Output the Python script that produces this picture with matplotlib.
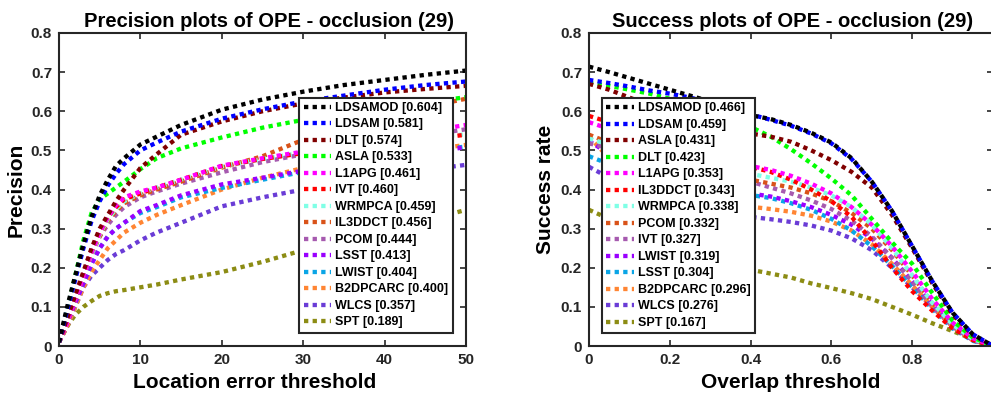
import matplotlib
matplotlib.use("Agg")
import matplotlib.pyplot as plt
import numpy as np

plt.rcParams['font.family'] = ['Liberation Sans', 'DejaVu Sans']
plt.rcParams['font.weight'] = 'bold'

# colours are given by rank in each legend
colors = ['#000000', '#0000FF', '#800000', '#00FF00', '#FF00FF', '#FF0000',
          '#80FFE6', '#D95319', '#A65AAF', '#9A00FF', '#0AA5E6', '#FF8533',
          '#6A3CD6', '#8C8C14']

# ---- precision plot (location error threshold) ----
prec_x = [0, 1, 2, 3, 4, 5, 6, 7, 8, 10, 12, 15, 20, 25, 30, 35, 40, 45, 50]
prec_names = ['LDSAMOD [0.604]', 'LDSAM [0.581]', 'DLT [0.574]', 'ASLA [0.533]',
              'L1APG [0.461]', 'IVT [0.460]', 'WRMPCA [0.459]', 'IL3DDCT [0.456]',
              'PCOM [0.444]', 'LSST [0.413]', 'LWIST [0.404]', 'B2DPCARC [0.400]',
              'WLCS [0.357]', 'SPT [0.189]']
p_ldsamod = [0.01, 0.10, 0.18, 0.26, 0.33, 0.385, 0.425, 0.46, 0.48, 0.515, 0.535, 0.565, 0.604, 0.63, 0.65, 0.667, 0.68, 0.693, 0.704]
p_ldsam = [0.01, 0.09, 0.17, 0.25, 0.32, 0.37, 0.41, 0.44, 0.465, 0.50, 0.52, 0.548, 0.581, 0.605, 0.625, 0.64, 0.655, 0.667, 0.676]
p_dlt = [0.01, 0.07, 0.13, 0.19, 0.25, 0.30, 0.335, 0.37, 0.40, 0.455, 0.49, 0.54, 0.574, 0.60, 0.62, 0.635, 0.648, 0.657, 0.665]
p_asla = [0.01, 0.09, 0.18, 0.27, 0.34, 0.375, 0.39, 0.405, 0.42, 0.452, 0.48, 0.505, 0.533, 0.558, 0.578, 0.595, 0.61, 0.622, 0.636]
p_l1apg = [0.01, 0.06, 0.12, 0.18, 0.24, 0.29, 0.33, 0.36, 0.38, 0.395, 0.405, 0.425, 0.461, 0.48, 0.497, 0.515, 0.53, 0.548, 0.565]
p_ivt = [0.01, 0.06, 0.12, 0.18, 0.24, 0.29, 0.33, 0.355, 0.375, 0.39, 0.405, 0.425, 0.460, 0.478, 0.493, 0.505, 0.515, 0.528, 0.54]
p_wrmpca = [0.01, 0.06, 0.12, 0.18, 0.235, 0.285, 0.325, 0.35, 0.37, 0.39, 0.405, 0.425, 0.459, 0.478, 0.495, 0.508, 0.52, 0.532, 0.541]
p_il3ddct = [0.01, 0.06, 0.12, 0.18, 0.235, 0.28, 0.32, 0.345, 0.365, 0.385, 0.40, 0.42, 0.456, 0.485, 0.527, 0.56, 0.59, 0.61, 0.632]
p_pcom = [0.01, 0.06, 0.12, 0.18, 0.235, 0.28, 0.31, 0.335, 0.355, 0.38, 0.395, 0.415, 0.444, 0.47, 0.49, 0.505, 0.52, 0.538, 0.554]
p_lsst = [0.01, 0.06, 0.11, 0.16, 0.21, 0.25, 0.28, 0.30, 0.315, 0.345, 0.36, 0.385, 0.413, 0.43, 0.448, 0.465, 0.48, 0.495, 0.508]
p_lwist = [0.01, 0.06, 0.11, 0.16, 0.21, 0.25, 0.28, 0.30, 0.315, 0.34, 0.355, 0.38, 0.404, 0.425, 0.445, 0.463, 0.48, 0.497, 0.51]
p_b2dpcarc = [0.01, 0.05, 0.10, 0.15, 0.19, 0.22, 0.25, 0.27, 0.29, 0.315, 0.335, 0.36, 0.400, 0.43, 0.455, 0.47, 0.485, 0.50, 0.514]
p_wlcs = [0.01, 0.05, 0.10, 0.15, 0.18, 0.20, 0.22, 0.235, 0.245, 0.27, 0.29, 0.315, 0.357, 0.38, 0.40, 0.42, 0.437, 0.45, 0.463]
p_spt = [0.01, 0.05, 0.08, 0.10, 0.115, 0.128, 0.135, 0.14, 0.143, 0.15, 0.157, 0.17, 0.189, 0.215, 0.245, 0.27, 0.295, 0.32, 0.348]
prec_vals = [p_ldsamod, p_ldsam, p_dlt, p_asla, p_l1apg, p_ivt, p_wrmpca, p_il3ddct,
             p_pcom, p_lsst, p_lwist, p_b2dpcarc, p_wlcs, p_spt]

# ---- success plot (overlap threshold) ----
succ_x = [0, 0.05, 0.1, 0.15, 0.2, 0.25, 0.3, 0.35, 0.4, 0.45, 0.5, 0.55, 0.6, 0.65, 0.7, 0.75, 0.8, 0.85, 0.9, 0.95, 1.0]
succ_names = ['LDSAMOD [0.466]', 'LDSAM [0.459]', 'ASLA [0.431]', 'DLT [0.423]',
              'L1APG [0.353]', 'IL3DDCT [0.343]', 'WRMPCA [0.338]', 'PCOM [0.332]',
              'IVT [0.327]', 'LWIST [0.319]', 'LSST [0.304]', 'B2DPCARC [0.296]',
              'WLCS [0.276]', 'SPT [0.167]']
s_ldsamod = [0.714, 0.70, 0.685, 0.67, 0.655, 0.64, 0.625, 0.61, 0.59, 0.58, 0.565, 0.545, 0.52, 0.48, 0.42, 0.345, 0.255, 0.165, 0.085, 0.03, 0.0]
s_ldsam = [0.68, 0.672, 0.663, 0.653, 0.645, 0.635, 0.622, 0.608, 0.592, 0.578, 0.563, 0.543, 0.518, 0.478, 0.42, 0.345, 0.255, 0.165, 0.085, 0.03, 0.0]
s_asla = [0.67, 0.655, 0.635, 0.615, 0.60, 0.585, 0.57, 0.555, 0.543, 0.535, 0.522, 0.50, 0.475, 0.445, 0.405, 0.335, 0.25, 0.16, 0.08, 0.028, 0.0]
s_dlt = [0.672, 0.665, 0.655, 0.645, 0.632, 0.618, 0.60, 0.58, 0.56, 0.535, 0.503, 0.467, 0.428, 0.385, 0.325, 0.265, 0.21, 0.135, 0.065, 0.022, 0.0]
s_l1apg = [0.572, 0.555, 0.54, 0.525, 0.51, 0.497, 0.485, 0.472, 0.46, 0.45, 0.435, 0.415, 0.39, 0.355, 0.31, 0.255, 0.19, 0.12, 0.06, 0.02, 0.0]
s_il3ddct = [0.588, 0.572, 0.555, 0.535, 0.515, 0.497, 0.482, 0.47, 0.458, 0.445, 0.425, 0.40, 0.37, 0.33, 0.27, 0.20, 0.14, 0.09, 0.045, 0.015, 0.0]
s_wrmpca = [0.53, 0.515, 0.50, 0.49, 0.48, 0.47, 0.46, 0.45, 0.44, 0.43, 0.42, 0.405, 0.385, 0.355, 0.31, 0.25, 0.18, 0.11, 0.055, 0.018, 0.0]
s_pcom = [0.54, 0.52, 0.50, 0.485, 0.47, 0.458, 0.447, 0.435, 0.425, 0.415, 0.405, 0.39, 0.37, 0.34, 0.30, 0.245, 0.18, 0.11, 0.055, 0.018, 0.0]
s_ivt = [0.518, 0.505, 0.492, 0.48, 0.468, 0.456, 0.445, 0.433, 0.42, 0.405, 0.39, 0.372, 0.35, 0.32, 0.28, 0.225, 0.165, 0.10, 0.05, 0.015, 0.0]
s_lwist = [0.525, 0.49, 0.465, 0.445, 0.43, 0.418, 0.407, 0.398, 0.39, 0.382, 0.37, 0.355, 0.335, 0.31, 0.275, 0.225, 0.165, 0.105, 0.05, 0.015, 0.0]
s_lsst = [0.485, 0.465, 0.445, 0.43, 0.418, 0.408, 0.40, 0.393, 0.386, 0.378, 0.365, 0.348, 0.325, 0.295, 0.255, 0.205, 0.15, 0.095, 0.045, 0.013, 0.0]
s_b2dpcarc = [0.535, 0.48, 0.44, 0.41, 0.39, 0.378, 0.37, 0.362, 0.356, 0.35, 0.343, 0.333, 0.318, 0.295, 0.26, 0.21, 0.155, 0.10, 0.05, 0.015, 0.0]
s_wlcs = [0.458, 0.43, 0.405, 0.385, 0.37, 0.355, 0.345, 0.337, 0.33, 0.324, 0.317, 0.308, 0.295, 0.275, 0.245, 0.20, 0.15, 0.10, 0.05, 0.015, 0.0]
s_spt = [0.348, 0.325, 0.295, 0.27, 0.25, 0.232, 0.217, 0.205, 0.195, 0.185, 0.175, 0.16, 0.148, 0.135, 0.12, 0.10, 0.08, 0.058, 0.038, 0.018, 0.003]
succ_vals = [s_ldsamod, s_ldsam, s_asla, s_dlt, s_l1apg, s_il3ddct, s_wrmpca, s_pcom,
             s_ivt, s_lwist, s_lsst, s_b2dpcarc, s_wlcs, s_spt]

W, H = 991, 398
fig = plt.figure(figsize=(W / 100, H / 100), dpi=100)
ax1 = fig.add_axes([59 / W, 52 / H, 407 / W, 313 / H])
ax2 = fig.add_axes([589 / W, 52 / H, 404 / W, 313 / H])


def draw(ax, xs, vals, names, title, xlabel, ylabel):
    for i in range(len(vals) - 1, -1, -1):
        ax.plot(xs, vals[i], color=colors[i], lw=3.1, dashes=(1, 1),
                dash_capstyle='butt', label=names[i])
    ax.set_ylim(0, 0.8)
    ax.set_yticks(np.arange(0, 0.81, 0.1))
    ax.set_yticklabels(['0'] + ['%.1f' % v for v in np.arange(0.1, 0.81, 0.1)])
    ax.set_title(title, fontsize=14.5, fontweight='bold', pad=4)
    ax.set_xlabel(xlabel, fontsize=15, fontweight='bold', labelpad=4)
    ax.set_ylabel(ylabel, fontsize=15, fontweight='bold', labelpad=4)
    ax.tick_params(direction='in', top=True, right=True, length=4, width=1.2,
                   labelsize=11, colors='#262626', pad=5)
    for s in ax.spines.values():
        s.set_linewidth(1.5)
        s.set_color('#262626')
    for lab in ax.get_xticklabels() + ax.get_yticklabels():
        lab.set_fontweight('bold')


draw(ax1, prec_x, prec_vals, prec_names, 'Precision plots of OPE - occlusion (29)',
     'Location error threshold', 'Precision')
ax1.set_xlim(0, 50)
ax1.set_xticks([0, 10, 20, 30, 40, 50])
ax1.title.set_position((0.515, 1.0))
ax1.xaxis.set_label_coords(0.48, -0.085)

draw(ax2, succ_x, succ_vals, succ_names, 'Success plots of OPE - occlusion (29)',
     'Overlap threshold', 'Success rate')
ax2.set_xlim(0, 1)
ax2.set_xticks([0, 0.2, 0.4, 0.6, 0.8, 1.0])
# the "1" label falls outside the picture in the reference
ax2.set_xticklabels(['0', '0.2', '0.4', '0.6', '0.8', ''])
ax2.title.set_position((0.505, 1.0))

for ax, loc, anchor in [(ax1, 'lower right', (0.968, 0.042)),
                        (ax2, 'upper left', (0.032, 0.792))]:
    h, l = ax.get_legend_handles_labels()
    leg = ax.legend(h[::-1], l[::-1], loc=loc, bbox_to_anchor=anchor,
                    borderaxespad=0, prop={'weight': 'bold', 'size': 9},
                    handlelength=2.2, handletextpad=0.35, labelspacing=0.36,
                    borderpad=0.35, fancybox=False, framealpha=1)
    leg.get_frame().set_edgecolor('#262626')
    leg.get_frame().set_linewidth(1.5)

fig.savefig('out.png', dpi=100)
